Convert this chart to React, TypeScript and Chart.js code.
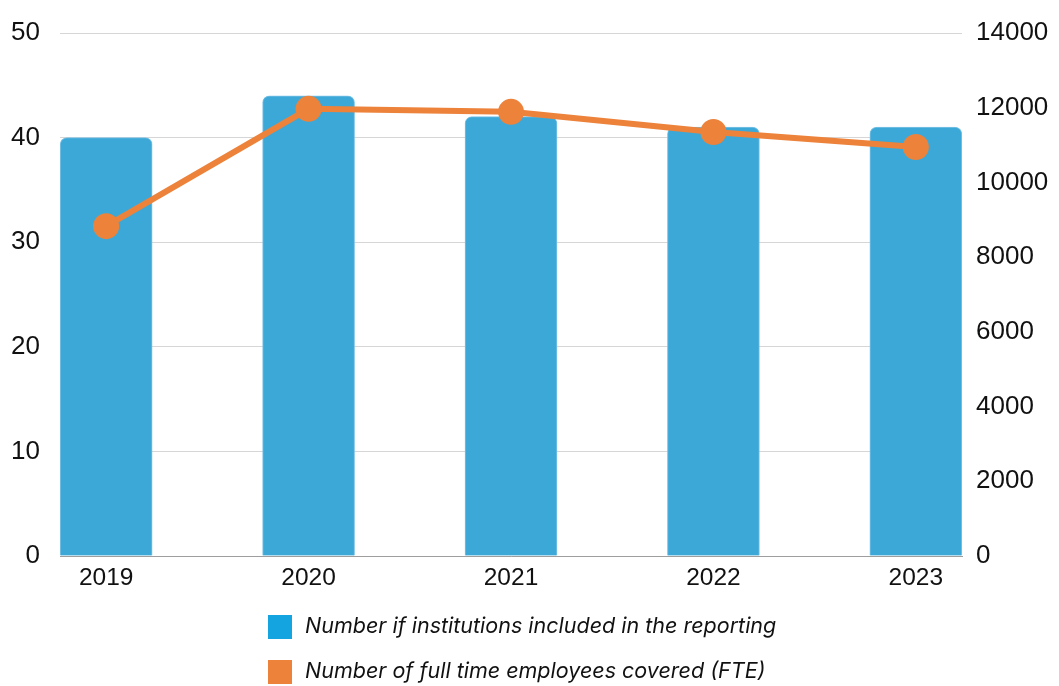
import React, { useEffect, useRef } from "react";
import { Chart, registerables } from "chart.js";

Chart.register(...registerables);

const categories = ["2019", "2020", "2021", "2022", "2023"];
const institutions = [40, 44, 42, 41, 41];
const fteEmployees = [8830, 11970, 11890, 11350, 10950];
const seriesLabels = [
  "Number if institutions included in the reporting",
  "Number of full time employees covered (FTE)",
];
const leftMax = 50;
const leftStep = 10;
const rightMax = 14000;
const rightStep = 2000;

const BAR_COLOR = "#3CA8D8";
const BAR_LEGEND_COLOR = "#14A5E0";
const LINE_COLOR = "#ED823A";
const TEXT_COLOR = "#111111";
const TICK_FAMILY = "'Liberation Sans', Arial, sans-serif";
const LEGEND_FAMILY = "Inter, 'Noto Sans', sans-serif";

const customLegend = {
  id: "customLegend",
  afterDraw(chart: any) {
    const ctx = chart.ctx;
    ctx.save();
    const rows = [
      { label: seriesLabels[0], color: BAR_LEGEND_COLOR },
      { label: seriesLabels[1], color: LINE_COLOR },
    ];
    const boxX = 268;
    const textX = 305;
    const rowCenters = [627, 672];
    ctx.font = `italic 21.5px ${LEGEND_FAMILY}`;
    ctx.textBaseline = "middle";
    ctx.textAlign = "left";
    rows.forEach((r, i) => {
      const cy = rowCenters[i];
      ctx.fillStyle = r.color;
      ctx.fillRect(boxX, cy - 12, 24, 24);
      ctx.fillStyle = TEXT_COLOR;
      ctx.fillText(r.label, textX, cy);
    });
    ctx.restore();
  },
};

export default function App() {
  const canvasRef = useRef<HTMLCanvasElement | null>(null);

  useEffect(() => {
    document.body.style.margin = "0";
    const canvas = canvasRef.current;
    if (!canvas) return;
    const yFont = { family: TICK_FAMILY, size: 26 };
    const xFont = { family: TICK_FAMILY, size: 24.5 };
    const chart = new Chart(canvas, {
      type: "bar",
      data: {
        datasets: [
          {
            type: "line",
            label: seriesLabels[1],
            data: categories.map((_, i) => ({ x: i, y: fteEmployees[i] })),
            yAxisID: "y1",
            xAxisID: "x",
            borderColor: LINE_COLOR,
            backgroundColor: LINE_COLOR,
            borderWidth: 6,
            pointRadius: 13,
            pointHoverRadius: 13,
            pointBackgroundColor: LINE_COLOR,
            pointBorderWidth: 0,
            tension: 0,
            order: 0,
          } as any,
          {
            type: "bar",
            label: seriesLabels[0],
            data: categories.map((_, i) => ({ x: i, y: institutions[i] })),
            yAxisID: "y",
            xAxisID: "x",
            backgroundColor: BAR_COLOR,
            borderColor: "#7cc3e6",
            borderWidth: 1,
            borderRadius: { topLeft: 7, topRight: 7, bottomLeft: 0, bottomRight: 0 },
            borderSkipped: "bottom",
            barThickness: 92,
            order: 1,
          } as any,
        ],
      },
      options: {
        animation: false,
        responsive: false,
        maintainAspectRatio: false,
        devicePixelRatio: 1,
        layout: { padding: { top: 33, bottom: 90, left: 0, right: 0 } },
        plugins: {
          legend: { display: false },
          tooltip: { enabled: false },
        },
        scales: {
          x: {
            type: "linear",
            offset: false,
            bounds: "data",
            min: -0.228,
            max: 4.228,
            afterBuildTicks: (s: any) => {
              s.ticks = categories.map((_, i) => ({ value: i }));
            },
            ticks: {
              callback: (v: any) => categories[v as number] ?? "",
              font: xFont,
              color: TEXT_COLOR,
              padding: 8,
              autoSkip: false,
              maxRotation: 0,
            },
            grid: { display: false, drawTicks: false, offset: false },
            border: { display: true, color: "#9e9e9e", width: 1 },
            afterFit: (s: any) => {
              s.height = 40;
            },
          },
          y: {
            type: "linear",
            position: "left",
            min: 0,
            max: leftMax,
            ticks: { stepSize: leftStep, font: yFont, color: TEXT_COLOR, padding: 4 },
            grid: {
              color: "#d6d6d6",
              drawTicks: true,
              tickLength: 16,
              tickColor: "rgba(0,0,0,0)",
              lineWidth: 1,
            },
            border: { display: false },
            afterFit: (s: any) => {
              s.width = 60;
            },
          },
          y1: {
            type: "linear",
            position: "right",
            min: 0,
            max: rightMax,
            ticks: {
              stepSize: rightStep,
              font: yFont,
              color: TEXT_COLOR,
              padding: 4,
              callback: (v: any) => String(v),
            },
            grid: {
              drawOnChartArea: false,
              drawTicks: true,
              tickLength: 10,
              tickColor: "rgba(0,0,0,0)",
            },
            border: { display: false },
            afterFit: (s: any) => {
              s.width = 97;
            },
          },
        },
      } as any,
      plugins: [customLegend],
    });
    return () => chart.destroy();
  }, []);

  return (
    <div style={{ width: 1059, height: 686, background: "#fff" }}>
      <canvas ref={canvasRef} width={1059} height={686} style={{ display: "block" }} />
    </div>
  );
}
